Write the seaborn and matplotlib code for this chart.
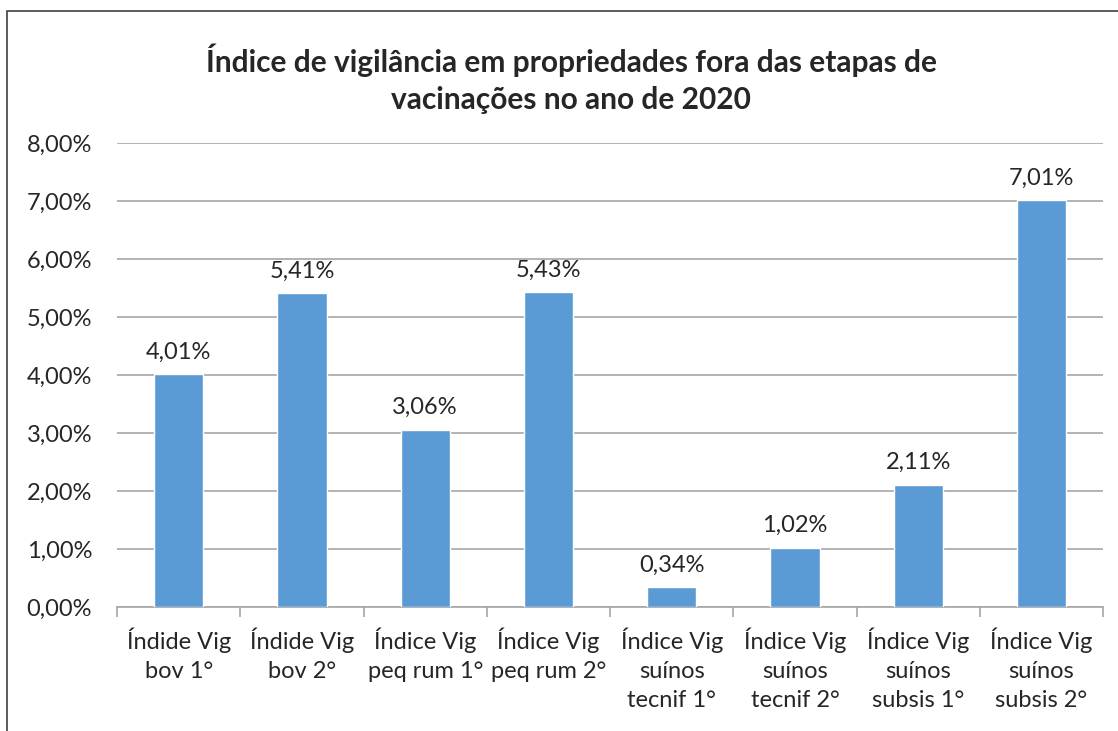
import matplotlib
matplotlib.use("Agg")
import matplotlib.pyplot as plt
import matplotlib.patches as mpatches
import pandas as pd
import seaborn as sns

# chart data
categories = [
    "Índide Vig\nbov 1°",
    "Índide Vig\nbov 2°",
    "Índice Vig\npeq rum 1°",
    "Índice Vig\npeq rum 2°",
    "Índice Vig\nsuínos\ntecnif 1°",
    "Índice Vig\nsuínos\ntecnif 2°",
    "Índice Vig\nsuínos\nsubsis 1°",
    "Índice Vig\nsuínos\nsubsis 2°",
]
values = [4.01, 5.41, 3.06, 5.43, 0.34, 1.02, 2.11, 7.01]
y_ticks = [0, 1, 2, 3, 4, 5, 6, 7, 8]
title = "Índice de vigilância em propriedades fora das etapas de\nvacinações no ano de 2020"

sns.set_style("white")
plt.rcParams["font.family"] = ["Lato", "DejaVu Sans"]

df = pd.DataFrame({"cat": categories, "val": values})

fig = plt.figure(figsize=(11.18, 7.31), dpi=100)
ax = fig.add_axes([0.1047, 0.1696, 0.882, 0.6348])

sns.barplot(data=df, x="cat", y="val", color="#5B9BD5", saturation=1,
            width=0.4, ax=ax, zorder=3)

ax.set_ylim(0, 8)
ax.set_xlim(-0.5, len(categories) - 0.5)
ax.set_yticks(y_ticks)
ax.set_yticklabels([f"{t:.2f}%".replace(".", ",") for t in y_ticks], fontsize=17)
ax.yaxis.grid(True, color="#A6A6A6", linewidth=1.2, zorder=0)
ax.set_axisbelow(True)
ax.tick_params(axis="y", length=0, pad=18)

# x axis: ticks between categories, like excel
ax.set_xticks(range(len(categories)))
ax.set_xticklabels(categories, fontsize=17, linespacing=1.45, va="top")
ax.tick_params(axis="x", length=0, pad=15)
ax.set_xticks([i - 0.5 for i in range(len(categories) + 1)], minor=True)
ax.tick_params(axis="x", which="minor", length=7, color="#A6A6A6", width=1.2,
               direction="out", bottom=True)
ax.set_xlabel("")
ax.set_ylabel("")

for s in ["top", "right", "left"]:
    ax.spines[s].set_visible(False)
ax.spines["bottom"].set_color("#A6A6A6")
ax.spines["bottom"].set_linewidth(1.2)

for i, v in enumerate(values):
    ax.text(i, v + 0.2, f"{v:.2f}%".replace(".", ","), ha="center", va="bottom",
            fontsize=17)

fig.text(0.511, 0.892, title, ha="center", va="center", fontsize=21.5,
         fontweight="bold", linespacing=1.4)

# chart border (right and bottom edges fall outside the image)
fig.add_artist(mpatches.Rectangle((7 / 1118, -0.1), 1.2, 1.1 - 11 / 731,
                                  transform=fig.transFigure, fill=False,
                                  edgecolor="#404040", linewidth=1.2))

fig.savefig("out.png", dpi=100)
